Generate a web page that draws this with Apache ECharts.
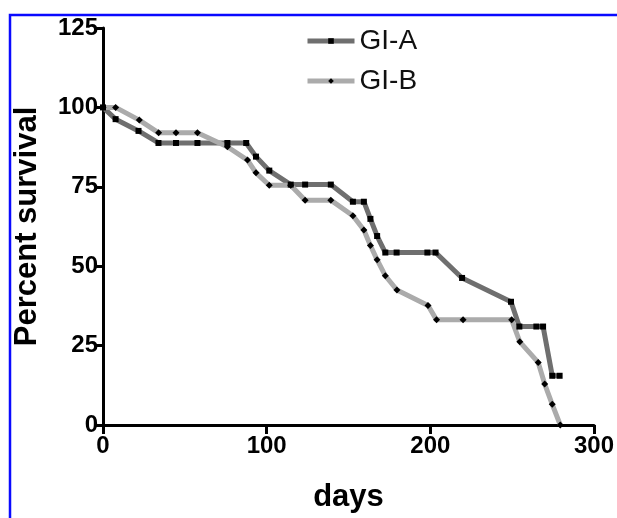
<!DOCTYPE html>
<html>
<head>
<meta charset="utf-8">
<script src="https://cdn.jsdelivr.net/npm/echarts@6/dist/echarts.min.js"></script>
<style>
  html, body { margin: 0; padding: 0; background: #fff; }
  #main { width: 617px; height: 518px; }
</style>
</head>
<body>
<div id="main"></div>
<script>
// values
const seriesNames = ['GI-A', 'GI-B'];
const daysA = [0, 7.7, 21.7, 33.9, 44.6, 57.7, 76, 87.5, 93.5, 101.6, 114.7, 123.5, 139.2, 152.7, 159.4, 163.4, 167.5, 172.5, 179.4, 198.2, 203.2, 219.4, 249.3, 254.4, 264.8, 268.9, 274.5, 279];
const survA = [100, 96.3, 92.6, 88.8, 88.8, 88.8, 88.8, 88.8, 84.5, 80.1, 75.7, 75.7, 75.7, 70.3, 70.3, 64.9, 59.5, 54.3, 54.3, 54.3, 54.3, 46.3, 38.8, 31, 31, 31, 15.5, 15.5];
const daysB = [0, 7.7, 22.2, 34, 44.6, 57.7, 76, 88.3, 93.5, 101.6, 114.7, 123.5, 139.2, 152.7, 159.4, 163.4, 167.5, 172.5, 179.6, 198.6, 203.8, 220, 249.7, 254.7, 265.9, 269.9, 274.5, 279.4];
const survB = [100, 100, 96, 92, 92, 92, 87.6, 83.4, 79.4, 75.5, 75.5, 70.8, 70.8, 65.9, 61.4, 56.5, 52, 47, 42.5, 37.6, 33.1, 33.1, 33.1, 26.2, 19.7, 12.9, 6.5, 0];

const pairs = (xs, ys) => xs.map((x, i) => [x, ys[i]]);

const chart = echarts.init(document.getElementById('main'));
const axisFont = { color: '#000', fontFamily: 'Liberation Sans, Arial', fontWeight: 'bold', fontSize: 24 };
const nameFont = { color: '#000', fontFamily: 'Liberation Sans, Arial', fontWeight: 'bold', fontSize: 31 };

chart.setOption({
  animation: false,
  backgroundColor: '#fff',
  graphic: [{
    type: 'rect',
    shape: { x: 10, y: 15, width: 800, height: 700 },
    style: { fill: 'none', stroke: '#0a0aff', lineWidth: 2.5 },
    silent: true
  }],
  legend: {
    orient: 'vertical',
    left: 300,
    top: 22,
    itemWidth: 47,
    itemHeight: 7,
    itemGap: 12,
    lineStyle: { width: 5 },
    textStyle: { color: '#111', fontFamily: 'Liberation Sans, Arial', fontSize: 28, padding: [0, 0, 0, 0] },
    data: seriesNames
  },
  grid: { left: 103, right: 19, top: 28, bottom: 93, containLabel: false },
  xAxis: {
    type: 'value', min: 0, max: 300, interval: 100,
    name: 'days', nameLocation: 'middle', nameGap: 57,
    nameTextStyle: nameFont,
    splitLine: { show: false },
    axisLine: { lineStyle: { color: '#000', width: 3 } },
    axisTick: { length: 9, lineStyle: { color: '#000', width: 3 } },
    axisLabel: Object.assign({ margin: 9 }, axisFont)
  },
  yAxis: {
    type: 'value', min: 0, max: 125, interval: 25,
    name: 'Percent survival', nameLocation: 'middle', nameGap: 60, nameRotate: 90,
    nameTextStyle: nameFont,
    splitLine: { show: false },
    axisLine: { show: true, lineStyle: { color: '#000', width: 3 } },
    axisTick: { show: true, length: 7, lineStyle: { color: '#000', width: 3 } },
    axisLabel: Object.assign({ margin: 5 }, axisFont)
  },
  series: [
    {
      name: seriesNames[0], type: 'line', data: pairs(daysA, survA),
      symbol: 'rect', symbolSize: 6, showAllSymbol: true,
      lineStyle: { color: '#6f6f6f', width: 5 },
      itemStyle: { color: '#000' }
    },
    {
      name: seriesNames[1], type: 'line', data: pairs(daysB, survB),
      symbol: 'diamond', symbolSize: 7, showAllSymbol: true,
      lineStyle: { color: '#ababab', width: 5 },
      itemStyle: { color: '#000' }
    }
  ]
});
</script>
</body>
</html>
